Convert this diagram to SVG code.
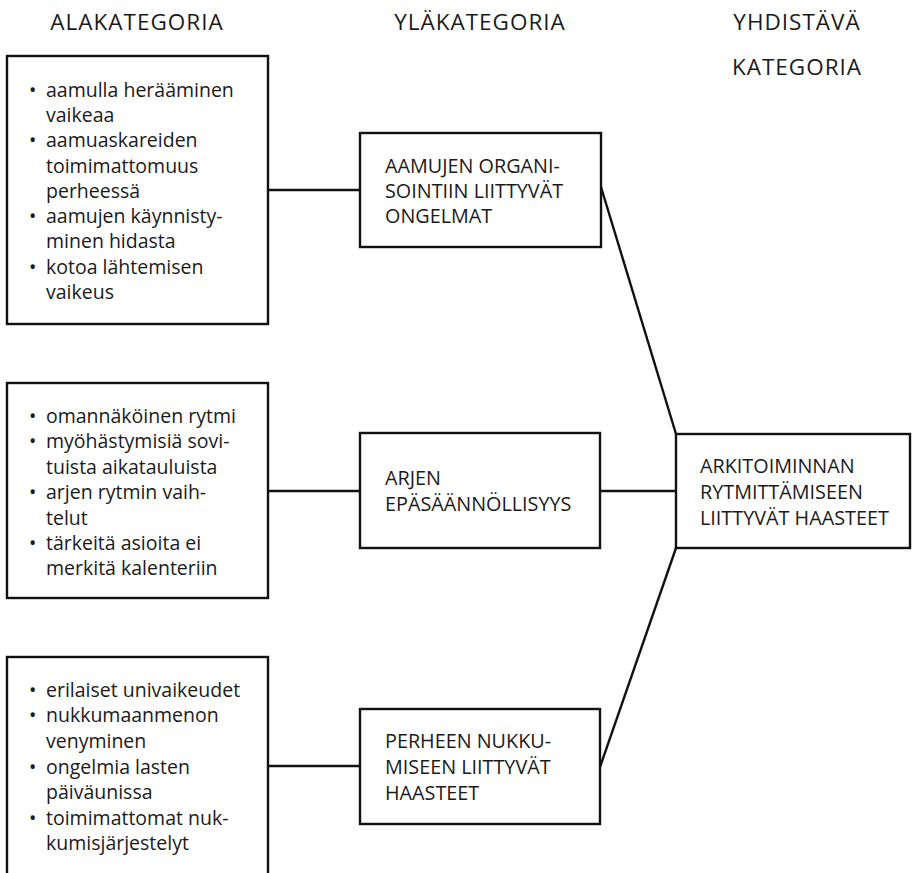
<svg xmlns="http://www.w3.org/2000/svg" width="914" height="873" viewBox="0 0 914 873">
<style>
.box{fill:#fff;stroke:#111;stroke-width:2.4}
.ln{stroke:#111;stroke-width:2.4;fill:none}
text{font-family:"Open Sans","Noto Sans",sans-serif;fill:#1a1a1a}
.t{font-size:19.5px}
.m{font-size:19.8px}
.h{font-size:22.5px;letter-spacing:1px;text-anchor:middle}
.b{font-size:19.5px}
</style>
<rect width="914" height="873" fill="#fff"/>
<g id="headers">
<text class="h" x="137" y="30">ALAKATEGORIA</text>
<text class="h" x="480" y="30">YLÄKATEGORIA</text>
<text class="h" x="797" y="30">YHDISTÄVÄ</text>
<text class="h" x="797" y="75">KATEGORIA</text>
</g>
<g id="connectors">
<line class="ln" x1="268" y1="190" x2="360" y2="190"/>
<line class="ln" x1="268" y1="491" x2="360" y2="491"/>
<line class="ln" x1="268" y1="766" x2="360" y2="766"/>
<line class="ln" x1="601" y1="187" x2="676" y2="434"/>
<line class="ln" x1="600" y1="491" x2="676" y2="491"/>
<line class="ln" x1="600" y1="767" x2="676" y2="548"/>
</g>
<g id="sub1">
<rect class="box" x="7" y="56" width="261" height="268"/>
<text class="b" x="29" y="97">•</text>
<text class="t" x="46" y="97">aamulla herääminen</text>
<text class="t" x="46" y="122">vaikeaa</text>
<text class="b" x="29" y="147">•</text>
<text class="t" x="46" y="147">aamuaskareiden</text>
<text class="t" x="46" y="172.5">toimimattomuus</text>
<text class="t" x="46" y="197.5">perheessä</text>
<text class="b" x="29" y="223">•</text>
<text class="t" x="46" y="223">aamujen käynnisty-</text>
<text class="t" x="46" y="248">minen hidasta</text>
<text class="b" x="29" y="274">•</text>
<text class="t" x="46" y="274">kotoa lähtemisen</text>
<text class="t" x="46" y="299">vaikeus</text>
</g>
<g id="sub2">
<rect class="box" x="7" y="383" width="261" height="215"/>
<text class="b" x="29" y="423">•</text>
<text class="t" x="46" y="423">omannäköinen rytmi</text>
<text class="b" x="29" y="448">•</text>
<text class="t" x="46" y="448">myöhästymisiä sovi-</text>
<text class="t" x="46" y="473.5">tuista aikatauluista</text>
<text class="b" x="29" y="498.5">•</text>
<text class="t" x="46" y="498.5">arjen rytmin vaih-</text>
<text class="t" x="46" y="524.5">telut</text>
<text class="b" x="29" y="550">•</text>
<text class="t" x="46" y="550">tärkeitä asioita ei</text>
<text class="t" x="46" y="575">merkitä kalenteriin</text>
</g>
<g id="sub3">
<rect class="box" x="7" y="657" width="261" height="230"/>
<text class="b" x="29" y="697">•</text>
<text class="t" x="46" y="697">erilaiset univaikeudet</text>
<text class="b" x="29" y="722">•</text>
<text class="t" x="46" y="722">nukkumaanmenon</text>
<text class="t" x="46" y="748">venyminen</text>
<text class="b" x="29" y="773.5">•</text>
<text class="t" x="46" y="773.5">ongelmia lasten</text>
<text class="t" x="46" y="798.5">päiväunissa</text>
<text class="b" x="29" y="824.5">•</text>
<text class="t" x="46" y="824.5">toimimattomat nuk-</text>
<text class="t" x="46" y="850">kumisjärjestelyt</text>
</g>
<g id="main1">
<rect class="box" x="360" y="133" width="241" height="114"/>
<text class="m" x="385" y="173">AAMUJEN ORGANI-</text>
<text class="m" x="385" y="198">SOINTIIN LIITTYVÄT</text>
<text class="m" x="385" y="223">ONGELMAT</text>
</g>
<g id="main2">
<rect class="box" x="360" y="433" width="240" height="115"/>
<text class="m" x="385" y="485">ARJEN</text>
<text class="m" x="385" y="511">EPÄSÄÄNNÖLLISYYS</text>
</g>
<g id="main3">
<rect class="box" x="360" y="709" width="240" height="115"/>
<text class="m" x="385" y="748">PERHEEN NUKKU-</text>
<text class="m" x="385" y="774">MISEEN LIITTYVÄT</text>
<text class="m" x="385" y="800">HAASTEET</text>
</g>
<g id="combined">
<rect class="box" x="676" y="434" width="234" height="114"/>
<text class="m" x="700" y="473">ARKITOIMINNAN</text>
<text class="m" x="700" y="499">RYTMITTÄMISEEN</text>
<text class="m" x="700" y="525">LIITTYVÄT HAASTEET</text>
</g>
</svg>
